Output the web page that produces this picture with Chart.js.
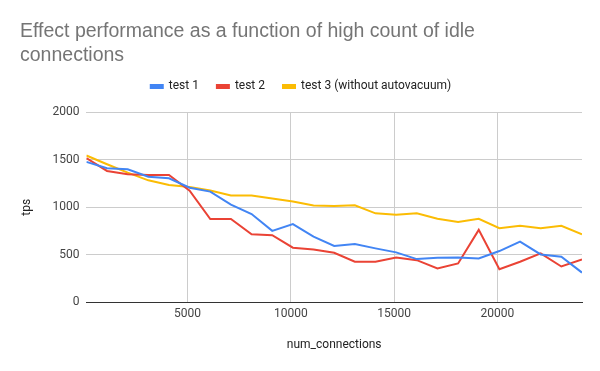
<!DOCTYPE html>
<html>
<head>
<meta charset="utf-8">
<script src="https://cdn.jsdelivr.net/npm/chart.js@4"></script>
<style>
  html, body { margin: 0; padding: 0; background: #fff; }
  #wrap { width: 600px; height: 371px; }
</style>
</head>
<body>
<div id="wrap"><canvas id="myChart"></canvas></div>
<script>
// num_connections (x) and tps for each run
const connections = [100, 1100, 2100, 3100, 4100, 5100, 6100, 7100, 8100, 9100, 10100, 11100, 12100,
    13100, 14100, 15100, 16100, 17100, 18100, 19100, 20100, 21100, 22100, 23100, 24100];
const test1 = [1479, 1411, 1400, 1322, 1305, 1206, 1165, 1028, 929, 752, 823, 691, 592,
    614, 567, 525, 454, 468, 471, 461, 539, 638, 503, 479, 312];
const test2 = [1518, 1383, 1348, 1340, 1340, 1175, 876, 876, 716, 706, 574, 556, 521,
    426, 426, 471, 443, 355, 408, 762, 348, 426, 514, 376, 450];
const test3 = [1546, 1454, 1365, 1284, 1234, 1213, 1177, 1124, 1124, 1092, 1060, 1018, 1014,
    1021, 936, 922, 936, 879, 844, 879, 780, 805, 780, 805, 716];
const xTicks = [5000, 10000, 15000, 20000];
const yTicks = [0, 500, 1000, 1500, 2000];

const seriesNames = ['test 1', 'test 2', 'test 3 (without autovacuum)'];
const seriesColors = ['#4285F4', '#EA4335', '#FBBC04'];

const toPoints = (vals) => vals.map((v, i) => ({x: connections[i], y: v}));

const ctx = document.getElementById('myChart');
const font = 'Roboto, "Liberation Sans", Arial, sans-serif';

// extra room under the legend
const legendGap = {
    id: 'legendGap',
    beforeLayout(chart) {
        const lg = chart.legend;
        if (!lg || lg._gapPatched) return;
        const fit = lg.fit;
        lg.fit = function () { fit.call(this); this.height += 10; };
        lg._gapPatched = true;
    }
};

const chartConfig = {
    type: 'line',
    data: {
        datasets: [test1, test2, test3].map((vals, i) => ({
            label: seriesNames[i],
            data: toPoints(vals),
            borderColor: seriesColors[i],
            backgroundColor: seriesColors[i],
            borderWidth: 2,
            pointRadius: 0,
            tension: 0,
        })),
    },
    plugins: [legendGap],
    options: {
        responsive: true,
        maintainAspectRatio: false,
        animation: false,
        layout: { padding: { left: 20, right: 18, top: 0, bottom: 19 } },
        plugins: {
            title: {
                display: true,
                text: ['Effect performance as a function of high count of idle', 'connections'],
                align: 'start',
                color: '#757575',
                font: { family: '"Liberation Sans", Arial, sans-serif', size: 19.5, weight: 'normal', lineHeight: 1.215 },
                padding: { top: 20, bottom: -5 },
            },
            legend: {
                display: true,
                position: 'top',
                labels: {
                    color: '#222',
                    font: { family: font, size: 12 },
                    boxWidth: 12,
                    boxHeight: 3,
                    padding: 18,
                },
            },
            tooltip: { enabled: false },
        },
        scales: {
            x: {
                type: 'linear',
                min: connections[0],
                max: connections[connections.length - 1],
                afterBuildTicks: (axis) => { axis.ticks = xTicks.map(v => ({value: v})); },
                ticks: {
                    color: '#444', font: { family: font, size: 12 }, padding: 5, maxRotation: 0,
                    callback: (v) => String(v),
                },
                grid: { color: '#cccccc', drawTicks: false },
                border: { display: true, color: '#333', width: 1 },
                title: {
                    display: true,
                    text: 'num_connections',
                    color: '#222',
                    font: { family: font, size: 12 },
                    padding: { top: 11, bottom: 0 },
                },
            },
            y: {
                min: 0,
                max: 2000,
                afterBuildTicks: (axis) => { axis.ticks = yTicks.map(v => ({value: v})); },
                ticks: {
                    color: '#444', font: { family: font, size: 12 }, padding: 7,
                    callback: (v) => String(v),
                },
                grid: { color: '#cccccc', drawTicks: false },
                border: { display: false },
                title: {
                    display: true,
                    text: 'tps',
                    color: '#222',
                    font: { family: font, size: 12 },
                    padding: { top: 0, bottom: 11 },
                },
            },
        },
    },
};
new Chart(ctx, chartConfig);
</script>
</body>
</html>
